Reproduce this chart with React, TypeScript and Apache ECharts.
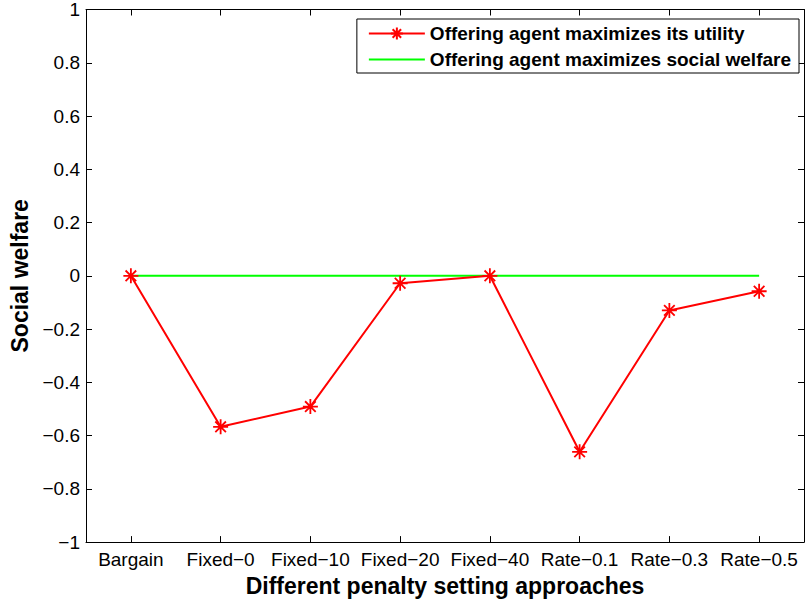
import React, { useEffect, useRef } from "react";
import * as echarts from "echarts";

const categories = ["Bargain", "Fixed−0", "Fixed−10", "Fixed−20", "Fixed−40", "Rate−0.1", "Rate−0.3", "Rate−0.5"];
const utilityValues = [0, -0.567, -0.491, -0.028, 0, -0.661, -0.13, -0.058];
const welfareValues = [0, 0, 0, 0, 0, 0, 0, 0];
const seriesNames = ["Offering agent maximizes its utility", "Offering agent maximizes social welfare"];
const xTitle = "Different penalty setting approaches";
const yTitle = "Social welfare";

const FONT = "'Liberation Sans', Arial, Helvetica, sans-serif";
const STAR = "path://M0 -10 L0 10 M-10 0 L10 0 M-7.07 -7.07 L7.07 7.07 M-7.07 7.07 L7.07 -7.07";

function fmtY(v: number): string {
  const r = Math.round(v * 10) / 10;
  const s = String(r);
  return s.replace("-", "\u2212");
}

export default function App() {
  const ref = useRef<HTMLDivElement>(null);
  useEffect(() => {
    if (!ref.current) return;
    const chart = echarts.init(ref.current, undefined, { renderer: "svg" });
    const tickCommon = { show: true, inside: true, length: 6, lineStyle: { color: "#000", width: 1 } };
    const lineCommon = { show: true, onZero: false, lineStyle: { color: "#000", width: 1 } };
    chart.setOption({
      animation: false,
      backgroundColor: "#fff",
      grid: { left: 86, top: 9, right: 4, bottom: 56, containLabel: false },
      legend: {
        right: 9,
        top: 19,
        orient: "vertical",
        borderColor: "#000",
        borderWidth: 1,
        backgroundColor: "#fff",
        padding: [5, 8, 4, 11],
        itemGap: 7,
        itemWidth: 56,
        itemHeight: 15,
        textStyle: { fontFamily: FONT, fontWeight: "bold", fontSize: 19, color: "#000" },
        data: [
          { name: seriesNames[0] },
          { name: seriesNames[1], itemStyle: { opacity: 0 } },
        ],
      },
      xAxis: [
        {
          type: "category",
          data: categories,
          boundaryGap: true,
          position: "bottom",
          axisLine: lineCommon,
          axisTick: { ...tickCommon, alignWithLabel: true },
          axisLabel: { fontFamily: FONT, fontSize: 19, color: "#000", margin: 8, interval: 0 },
          splitLine: { show: false },
          name: xTitle,
          nameLocation: "middle",
          nameGap: 30,
          nameTextStyle: { fontFamily: FONT, fontWeight: "bold", fontSize: 23, color: "#000" },
        },
        {
          type: "category",
          data: categories,
          boundaryGap: true,
          position: "top",
          axisLine: lineCommon,
          axisTick: { ...tickCommon, alignWithLabel: true },
          axisLabel: { show: false },
          splitLine: { show: false },
        },
      ],
      yAxis: [
        {
          type: "value",
          min: -1,
          max: 1,
          interval: 0.2,
          position: "left",
          axisLine: lineCommon,
          axisTick: tickCommon,
          axisLabel: { fontFamily: FONT, fontSize: 19, color: "#000", margin: 6, formatter: fmtY },
          splitLine: { show: false },
          name: yTitle,
          nameLocation: "middle",
          nameGap: 54,
          nameRotate: 90,
          nameTextStyle: { fontFamily: FONT, fontWeight: "bold", fontSize: 23, color: "#000" },
        },
        {
          type: "value",
          min: -1,
          max: 1,
          interval: 0.2,
          position: "right",
          axisLine: lineCommon,
          axisTick: tickCommon,
          axisLabel: { show: false },
          splitLine: { show: false },
        },
      ],
      series: [
        {
          name: seriesNames[1],
          type: "line",
          data: welfareValues,
          symbol: "none",
          lineStyle: { color: "#00ff00", width: 2 },
          itemStyle: { color: "#00ff00" },
          z: 2,
        },
        {
          name: seriesNames[0],
          type: "line",
          data: utilityValues,
          symbol: STAR,
          symbolSize: 15,
          showAllSymbol: true,
          lineStyle: { color: "#ff0000", width: 2 },
          itemStyle: { color: "#ff0000", borderColor: "#ff0000", borderWidth: 1.8 },
          z: 3,
        },
      ],
    });
    return () => chart.dispose();
  }, []);
  return <div ref={ref} style={{ position: "fixed", left: 0, top: 0, width: 808, height: 602 }} />;
}
